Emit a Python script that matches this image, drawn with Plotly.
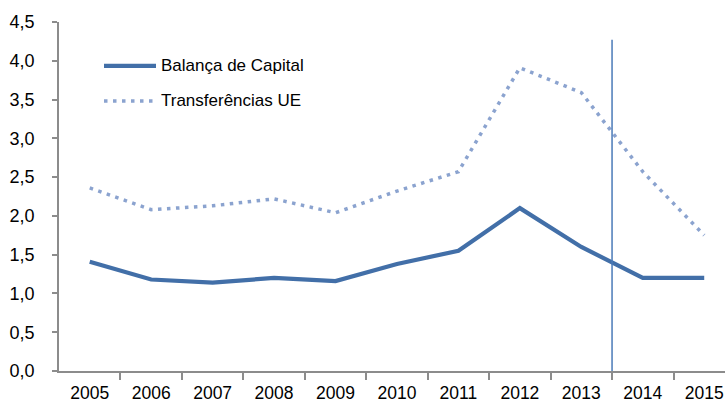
import plotly.graph_objects as go

years = ["2005", "2006", "2007", "2008", "2009", "2010", "2011", "2012", "2013", "2014", "2015"]
balanca = [1.41, 1.18, 1.14, 1.20, 1.16, 1.38, 1.55, 2.10, 1.60, 1.20, 1.20]
transf = [2.36, 2.08, 2.13, 2.22, 2.04, 2.32, 2.57, 3.91, 3.59, 2.57, 1.75]
series_names = ["Balança de Capital", "Transferências UE"]
y_ticks = [0, 0.5, 1, 1.5, 2, 2.5, 3, 3.5, 4, 4.5]
y_tick_labels = ["0,0", "0,5", "1,0", "1,5", "2,0", "2,5", "3,0", "3,5", "4,0", "4,5"]
marker_year_pos = 8.5
marker_top = 4.27

c_bal = "#426fa8"
c_tr = "#8ba3cf"
axis_c = "#8c8c8c"
font_f = "Liberation Sans"

W, H = 725, 405
L, T = 59, 22
B = H - 371.5
pw = W - L
ph = H - T - B

x_idx = list(range(len(years)))

fig = go.Figure()
fig.add_trace(go.Scatter(x=x_idx, y=transf, mode="lines", name=series_names[1],
                         line=dict(color=c_tr, width=3.5, dash="3.5px,5.5px"),
                         showlegend=False, hoverinfo="skip"))
fig.add_trace(go.Scatter(x=x_idx, y=balanca, mode="lines", name=series_names[0],
                         line=dict(color=c_bal, width=4.2),
                         showlegend=False, hoverinfo="skip"))

# vertical marker line
fig.add_shape(type="line", xref="x", yref="y", x0=marker_year_pos, x1=marker_year_pos,
              y0=0, y1=marker_top, line=dict(color="#4a7ab8", width=1.5))

# manual legend (positions in reference pixels)
def px2paper(px, py):
    return (px - L) / pw, (H - B - py) / ph

legend_rows = [(series_names[0], c_bal, 4.2, "solid", 66),
               (series_names[1], c_tr, 3.5, "3.5px,5.5px", 101)]
for name, col, wdt, dash, py in legend_rows:
    xa, ya = px2paper(104, py)
    xb, _ = px2paper(156, py)
    fig.add_shape(type="line", xref="paper", yref="paper", x0=xa, x1=xb, y0=ya, y1=ya,
                  line=dict(color=col, width=wdt, dash=dash))
    xt, _ = px2paper(159, py)
    fig.add_annotation(xref="paper", yref="paper", x=xt, y=ya, text=name, showarrow=False,
                       xanchor="left", yanchor="middle",
                       font=dict(family=font_f, size=17, color="#000000"))

fig.update_layout(
    width=W, height=H,
    margin=dict(l=L, r=0, t=T, b=B),
    paper_bgcolor="white", plot_bgcolor="white",
    font=dict(family=font_f, size=16, color="#000000"),
    showlegend=False,
)
fig.update_xaxes(range=[-0.5, -0.5 + pw / 61.45], tickmode="array", tickvals=x_idx, ticktext=years,
                 showgrid=False, zeroline=False, showline=True, linecolor=axis_c, linewidth=1.5,
                 ticks="", tickfont=dict(family=font_f, size=17.5), automargin=False,
                 ticklabelstandoff=5)
fig.update_xaxes(minor=dict(tickmode="array", tickvals=[i + 0.5 for i in x_idx], ticks="outside",
                            ticklen=7, tickcolor=axis_c, tickwidth=1.5, showgrid=False))
fig.update_yaxes(range=[0, 4.5], tickmode="array", tickvals=y_ticks, ticktext=y_tick_labels,
                 showgrid=False, zeroline=False, showline=True, linecolor=axis_c, linewidth=1.5,
                 ticks="outside", ticklen=5, tickcolor=axis_c, tickwidth=1.5,
                 tickfont=dict(family=font_f, size=18), ticklabelstandoff=14, automargin=False)

fig.write_html("out.html", config={"displayModeBar": False},
               post_script="document.body.style.margin='0';document.body.style.overflow='hidden';")
